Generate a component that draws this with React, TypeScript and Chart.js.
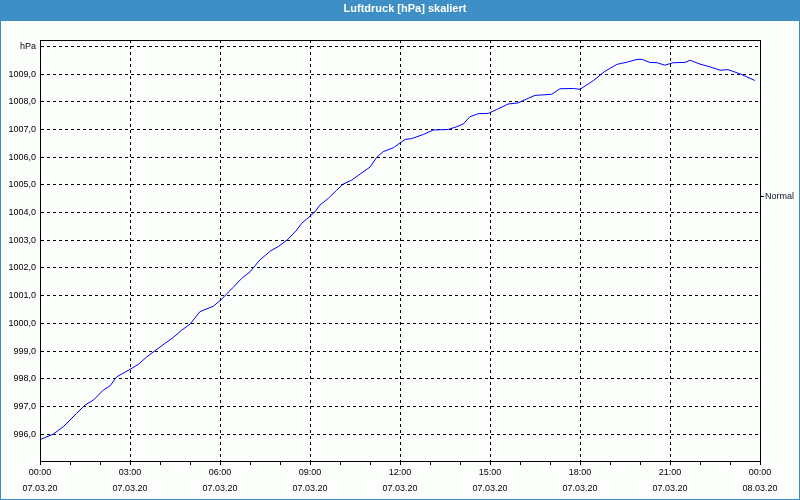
import React, { useEffect, useRef } from "react";
import { Chart, registerables } from "chart.js";

Chart.register(...registerables);

const chartTitle = "Luftdruck [hPa] skaliert";
const yUnitLabel = "hPa";
const legendLabel = "Normal";

const hours = [
  0.0, 0.44, 0.78, 1.22, 1.5, 1.78, 2.11, 2.33, 2.56, 3.0, 3.28, 3.56, 3.83, 4.17, 4.44, 4.72,
  5.0, 5.33, 5.78, 6.02, 6.44, 6.72, 7.0, 7.33, 7.69, 7.94, 8.24, 8.56, 8.72, 9.0, 9.17, 9.33,
  9.61, 9.89, 10.11, 10.39, 10.67, 11.0, 11.22, 11.44, 11.78, 12.01, 12.17, 12.39, 12.78, 13.11,
  13.61, 13.89, 14.11, 14.33, 14.61, 14.94, 15.22, 15.61, 15.94, 16.22, 16.5, 17.06, 17.33,
  17.78, 18.0, 18.44, 18.83, 19.23, 19.57, 19.9, 20.07, 20.33, 20.57, 20.83, 21.1, 21.5, 21.67,
  22.0, 22.33, 22.67, 22.93, 23.33, 23.83,
];

const pressure = [
  995.8, 996.0, 996.27, 996.75, 997.05, 997.23, 997.59, 997.74, 998.07, 998.34, 998.52, 998.79,
  999.01, 999.28, 999.49, 999.75, 999.97, 1000.42, 1000.62, 1000.84, 1001.3, 1001.62, 1001.86,
  1002.29, 1002.62, 1002.77, 1003.01, 1003.37, 1003.61, 1003.87, 1004.03, 1004.27, 1004.51,
  1004.81, 1005.03, 1005.17, 1005.39, 1005.64, 1005.99, 1006.2, 1006.34, 1006.52, 1006.64,
  1006.67, 1006.82, 1006.98, 1007.0, 1007.1, 1007.2, 1007.46, 1007.57, 1007.58, 1007.72,
  1007.92, 1007.96, 1008.1, 1008.23, 1008.27, 1008.47, 1008.48, 1008.45, 1008.76, 1009.1,
  1009.35, 1009.43, 1009.53, 1009.53, 1009.42, 1009.41, 1009.32, 1009.41, 1009.42, 1009.5,
  1009.36, 1009.26, 1009.14, 1009.16, 1009.01, 1008.77,
];

const xTickHours = [0, 1, 2, 3, 4, 5, 6, 7, 8, 9, 10, 11, 12, 13, 14, 15, 16, 17, 18, 19, 20, 21, 22, 23, 24];
const xMajorHours = [0, 3, 6, 9, 12, 15, 18, 21, 24];
const xTimeLabels = ["00:00", "03:00", "06:00", "09:00", "12:00", "15:00", "18:00", "21:00", "00:00"];
const xDateLabels = ["07.03.20", "07.03.20", "07.03.20", "07.03.20", "07.03.20", "07.03.20", "07.03.20", "07.03.20", "08.03.20"];
const yTicks = [996, 997, 998, 999, 1000, 1001, 1002, 1003, 1004, 1005, 1006, 1007, 1008, 1009, 1010];

const FONT = '"Liberation Sans", Arial, sans-serif';
const BLUE = "#3d8fc6";

export default function App() {
  const ref = useRef<HTMLCanvasElement | null>(null);

  useEffect(() => {
    const canvas = ref.current;
    if (!canvas) return;

    const framePlugin = {
      id: "frame",
      beforeDraw(chart: any) {
        const ctx = chart.ctx;
        ctx.save();
        ctx.fillStyle = "#fcfefc";
        ctx.fillRect(0, 0, 800, 500);
        ctx.fillStyle = BLUE;
        ctx.fillRect(0, 0, 800, 21);
        ctx.fillRect(0, 0, 1, 500);
        ctx.fillRect(799, 0, 1, 500);
        ctx.fillRect(0, 499, 800, 1);
        ctx.fillStyle = "#ffffff";
        ctx.font = "bold 11px " + FONT;
        ctx.textAlign = "center";
        ctx.textBaseline = "middle";
        ctx.fillText(chartTitle, 405, 9);
        ctx.restore();
      },
      afterDraw(chart: any) {
        const ctx = chart.ctx;
        const a = chart.chartArea;
        const l = Math.round(a.left);
        const r = Math.round(a.right);
        const t = Math.round(a.top);
        const b = Math.round(a.bottom);
        ctx.save();
        ctx.strokeStyle = "#000";
        ctx.lineWidth = 1;
        ctx.setLineDash([]);
        ctx.strokeRect(l + 0.5, t + 0.5, r - l, b - t);
        // legend
        ctx.beginPath();
        ctx.moveTo(r + 1, 196.5);
        ctx.lineTo(r + 4, 196.5);
        ctx.stroke();
        ctx.fillStyle = "#101030";
        ctx.font = "9px " + FONT;
        ctx.textAlign = "left";
        ctx.textBaseline = "middle";
        ctx.fillText(legendLabel, r + 5, 197);
        ctx.restore();
      },
    };

    const chart = new Chart(canvas, {
      type: "line",
      data: {
        datasets: [
          {
            label: legendLabel,
            data: hours.map((h, i) => ({ x: h, y: pressure[i] })),
            borderColor: "#0000ff",
            borderWidth: 1,
            pointRadius: 0,
            tension: 0,
            fill: false,
          },
        ],
      },
      options: {
        responsive: false,
        animation: false,
        layout: { padding: { left: 0, right: 40, top: 40, bottom: 0 } },
        plugins: {
          legend: { display: false },
          tooltip: { enabled: false },
          title: { display: false },
        },
        scales: {
          x: {
            type: "linear",
            min: 0,
            max: 24,
            afterBuildTicks: (s: any) => {
              s.ticks = xTickHours.map((v) => ({ value: v }));
            },
            afterFit: (s: any) => {
              s.height = 39;
            },
            grid: {
              color: (c: any) =>
                c.tick && xMajorHours.includes(c.tick.value) ? "#000" : "rgba(0,0,0,0)",
              tickColor: "#000",
              tickLength: 4,
              tickBorderDash: [],
              lineWidth: 1,
            },
            border: { display: true, color: "#000", dash: [3, 3] },
            ticks: {
              autoSkip: false,
              maxRotation: 0,
              padding: 0,
              color: "#000",
              font: { family: FONT, size: 9, lineHeight: "16px" } as any,
              callback: (v: any) => {
                const idx = xMajorHours.indexOf(Number(v));
                return idx >= 0 ? [xTimeLabels[idx], xDateLabels[idx]] : "";
              },
            },
          },
          y: {
            type: "linear",
            min: 995.03,
            max: 1010.23,
            afterBuildTicks: (s: any) => {
              s.ticks = yTicks.map((v) => ({ value: v }));
            },
            afterFit: (s: any) => {
              s.width = 40;
            },
            grid: { color: "#000", drawTicks: false, lineWidth: 1 },
            border: { display: true, color: "#000", dash: [3, 3] },
            ticks: {
              padding: 4,
              color: "#000",
              font: { family: FONT, size: 9 },
              callback: (v: any) =>
                Number(v) === 1010 ? yUnitLabel : Number(v).toFixed(1).replace(".", ","),
            },
          },
        },
      },
      plugins: [framePlugin],
    });

    return () => chart.destroy();
  }, []);

  return (
    <div style={{ position: "absolute", left: 0, top: 0, width: 800, height: 500 }}>
      <canvas ref={ref} width={800} height={500} style={{ display: "block" }} />
    </div>
  );
}
